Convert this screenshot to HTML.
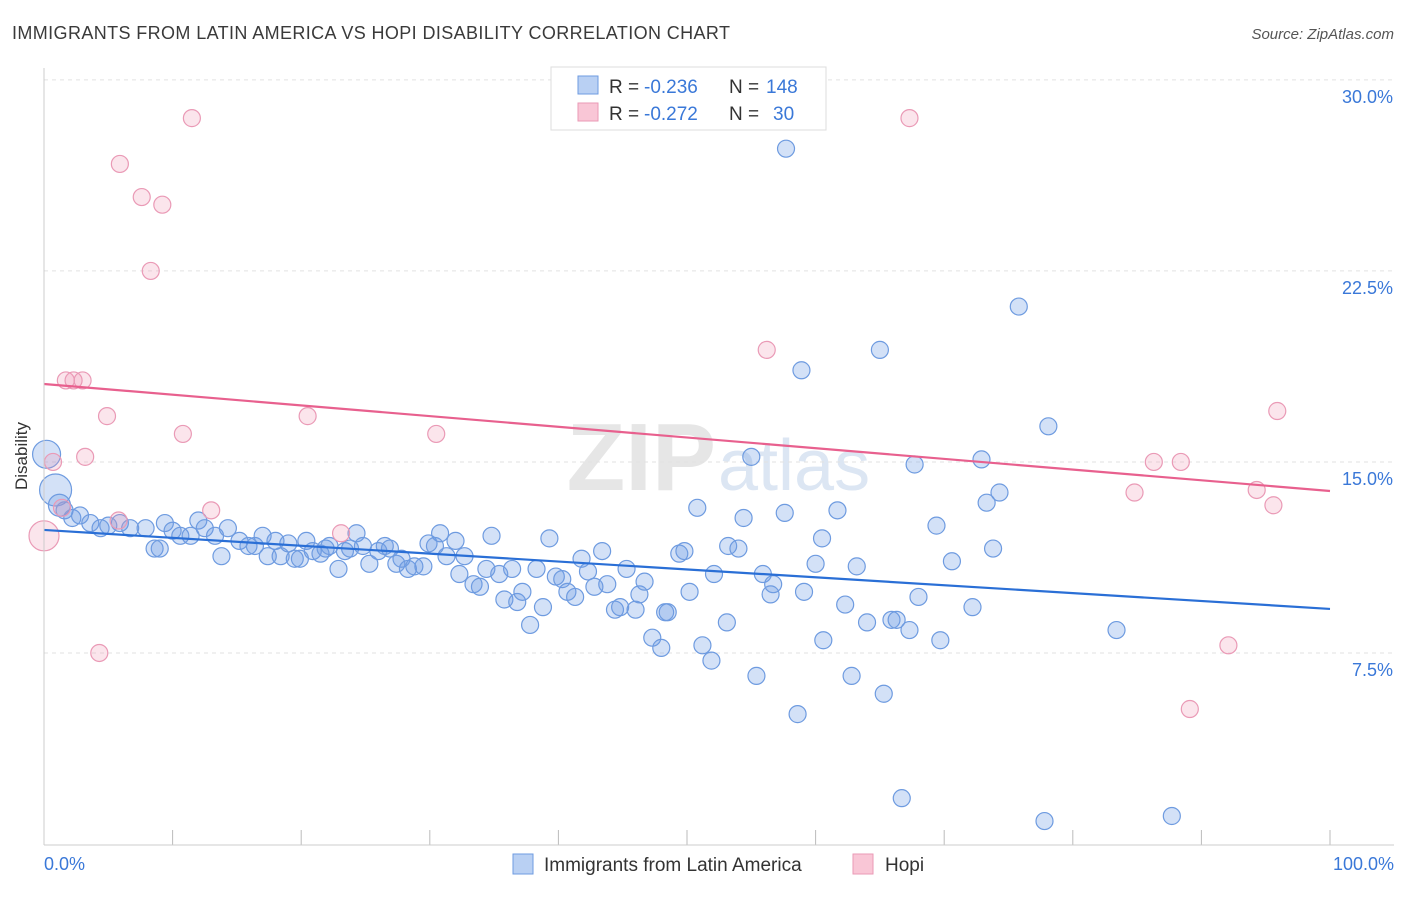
<!DOCTYPE html>
<html><head><meta charset="utf-8"><style>
body{margin:0;background:#fff;font-family:"Liberation Sans",sans-serif;}
svg text{font-family:"Liberation Sans",sans-serif;}
</style></head><body>
<svg id="chart" width="1406" height="892">
<text x="12" y="39" font-size="18" fill="#3a3a3a" textLength="718">IMMIGRANTS FROM LATIN AMERICA VS HOPI DISABILITY CORRELATION CHART</text>
<text x="1394" y="39" font-size="15" fill="#555" text-anchor="end" font-style="italic">Source: ZipAtlas.com</text>
<text x="716" y="490" font-size="96" fill="#e6e6e6" text-anchor="end" font-family="Liberation Serif" font-weight="bold">ZIP</text>
<text x="718" y="490" font-size="72" fill="#dce6f3">atlas</text>
<g id="grid"></g>
<g id="pts"></g>
<g id="trends"></g>
<line x1="44" y1="68" x2="44" y2="845" stroke="#ccc"/>
<line x1="44" y1="845" x2="1394" y2="845" stroke="#ccc"/>
<text x="27" y="456" font-size="17" fill="#333" text-anchor="middle" transform="rotate(-90 27 456)">Disability</text>
<text x="44" y="870" font-size="18" fill="#3a78d8">0.0%</text>
<text x="1394" y="870" font-size="18" fill="#3a78d8" text-anchor="end">100.0%</text>
<g>
<rect x="551" y="67" width="275" height="63" fill="#fff" stroke="#ddd"/>
<rect x="578" y="76" width="20" height="18" fill="#b9d0f3" stroke="#6e9be0"/>
<rect x="578" y="103" width="20" height="18" fill="#f9c6d6" stroke="#ea9ab6"/>
<text x="609" y="93" font-size="19" fill="#333">R =</text>
<text x="644" y="93" font-size="19" fill="#3a78d8">-0.236</text>
<text x="729" y="93" font-size="19" fill="#333">N =</text>
<text x="766" y="93" font-size="19" fill="#3a78d8">148</text>
<text x="609" y="120" font-size="19" fill="#333">R =</text>
<text x="644" y="120" font-size="19" fill="#3a78d8">-0.272</text>
<text x="729" y="120" font-size="19" fill="#333">N =</text>
<text x="773" y="120" font-size="19" fill="#3a78d8">30</text>
</g>
<g>
<rect x="513" y="854" width="20" height="20" fill="#b9d0f3" stroke="#6e9be0"/>
<text x="544" y="871" font-size="19" fill="#333">Immigrants from Latin America</text>
<rect x="853" y="854" width="20" height="20" fill="#f9c6d6" stroke="#ea9ab6"/>
<text x="885" y="871" font-size="19" fill="#333">Hopi</text>
</g>
</svg>
<script>
const yTicks=[7.5,15.0,22.5,30.0];
const xTicks=[0,10,20,30,40,50,60,70,80,90,100];
const blueX=[57.7,75.8,65.0,58.9,78.1,55.0,72.9,67.7,74.3,73.3,50.8,57.6,61.7,54.4,69.4,60.5,53.2,54.0,73.8,49.4,49.8,70.6,60.0,63.2,55.9,52.1,56.7,56.5,59.1,50.2,62.3,72.2,68.0,48.5,48.3,53.1,64.0,65.9,66.3,67.3,60.6,69.7,47.3,48.0,51.2,51.9,55.4,62.8,65.3,58.6,66.7,77.8,87.7,83.4,
0.2,0.9,1.2,1.6,2.2,2.8,3.6,4.4,5.0,5.9,6.7,7.9,8.6,9.0,9.4,10.0,10.6,11.4,12.0,12.5,13.3,13.8,14.3,15.2,15.9,16.4,17.0,17.4,18.0,18.4,19.0,19.5,19.9,20.4,20.9,21.5,21.9,22.2,22.9,23.4,23.8,24.3,24.8,25.3,26.0,26.5,26.9,27.4,27.8,28.3,28.8,29.5,29.9,30.4,30.8,31.3,32.0,32.3,32.7,33.4,33.9,34.4,34.8,35.4,35.8,36.4,36.8,37.2,37.8,38.3,38.8,39.3,39.8,40.3,40.7,41.3,41.8,42.3,42.8,43.4,43.8,44.4,44.8,45.3,46.0,46.3,46.7];
const blueY=[27.3,21.1,19.4,18.6,16.4,15.2,15.1,14.9,13.8,13.4,13.2,13.0,13.1,12.8,12.5,12.0,11.7,11.6,11.6,11.4,11.5,11.1,11.0,10.9,10.6,10.6,10.2,9.8,9.9,9.9,9.4,9.3,9.7,9.1,9.1,8.7,8.7,8.8,8.8,8.4,8.0,8.0,8.1,7.7,7.8,7.2,6.6,6.6,5.9,5.1,1.8,0.9,1.1,8.4,
15.3,13.9,13.3,13.1,12.8,12.9,12.6,12.4,12.5,12.6,12.4,12.4,11.6,11.6,12.6,12.3,12.1,12.1,12.7,12.4,12.1,11.3,12.4,11.9,11.7,11.7,12.1,11.3,11.9,11.3,11.8,11.2,11.2,11.9,11.5,11.4,11.6,11.7,10.8,11.5,11.6,12.2,11.7,11.0,11.5,11.7,11.6,11.0,11.2,10.8,10.9,10.9,11.8,11.7,12.2,11.3,11.9,10.6,11.3,10.2,10.1,10.8,12.1,10.6,9.6,10.8,9.5,9.9,8.6,10.8,9.3,12.0,10.5,10.4,9.9,9.7,11.2,10.7,10.1,11.5,10.2,9.2,9.3,10.8,9.2,9.8,10.3];
const pinkX=[5.9,11.5,7.6,9.2,8.3,67.3,56.2,1.7,2.3,3.0,4.9,20.5,10.8,30.5,3.2,0.7,95.9,88.4,86.3,84.8,94.3,95.6,13.0,5.8,23.1,0,1.4,4.3,92.1,89.1];
const pinkY=[26.7,28.5,25.4,25.1,22.5,28.5,19.4,18.2,18.2,18.2,16.8,16.8,16.1,16.1,15.2,15.0,17.0,15.0,15.0,13.8,13.9,13.3,13.1,12.7,12.2,12.1,13.2,7.5,7.8,5.3];
const blueTrend=[12.33,9.23];
const pinkTrend=[18.06,13.86];
const X0=44,X1=1330,Y0=844,YPX=25.47;
const xs=v=>X0+(X1-X0)*v/100;
const ys=v=>Y0-v*YPX;
const NS="http://www.w3.org/2000/svg";
function mk(tag,attrs,parent){const e=document.createElementNS(NS,tag);for(const k in attrs)e.setAttribute(k,attrs[k]);parent.appendChild(e);return e;}
const grid=document.getElementById('grid');
yTicks.forEach((t,i)=>{
 const l=mk('line',{x1:44,x2:1394,y1:ys(t),y2:ys(t),stroke:'#e2e2e2','stroke-dasharray':'4,4'},grid);
 
 
 const tx=mk('text',{x:1393,y:ys(t)+23,'font-size':18,fill:'#3a78d8','text-anchor':'end'},grid);
 tx.textContent=t.toFixed(1)+'%';
 
 
});
xTicks.forEach(t=>{
 const l=mk('line',{x1:xs(t),x2:xs(t),y1:830,y2:845,stroke:'#bbb'},grid);
 
 
});
const pts=document.getElementById('pts');
blueX.forEach((x,i)=>{
 const r=i===54?14:(i===55?16:(i===56?11:8.5));
 const c=mk('circle',{cx:xs(x),cy:ys(blueY[i]),r:r,fill:'rgba(110,155,230,0.3)',stroke:'#6e9be0','stroke-width':1.2},pts);
 
 
});
pinkX.forEach((x,i)=>{
 const r=i===25?15:8.5;
 const c=mk('circle',{cx:xs(x),cy:ys(pinkY[i]),r:r,fill:'rgba(240,150,180,0.25)',stroke:'#ea9ab6','stroke-width':1.2},pts);
 
 
});
const tr=document.getElementById('trends');
const bl=mk('line',{x1:xs(0),y1:ys(blueTrend[0]),x2:xs(100),y2:ys(blueTrend[1]),stroke:'#2a6fd6','stroke-width':2.2},tr);


const pl=mk('line',{x1:xs(0),y1:ys(pinkTrend[0]),x2:xs(100),y2:ys(pinkTrend[1]),stroke:'#e8608e','stroke-width':2.2},tr);


</script>
</body></html>
